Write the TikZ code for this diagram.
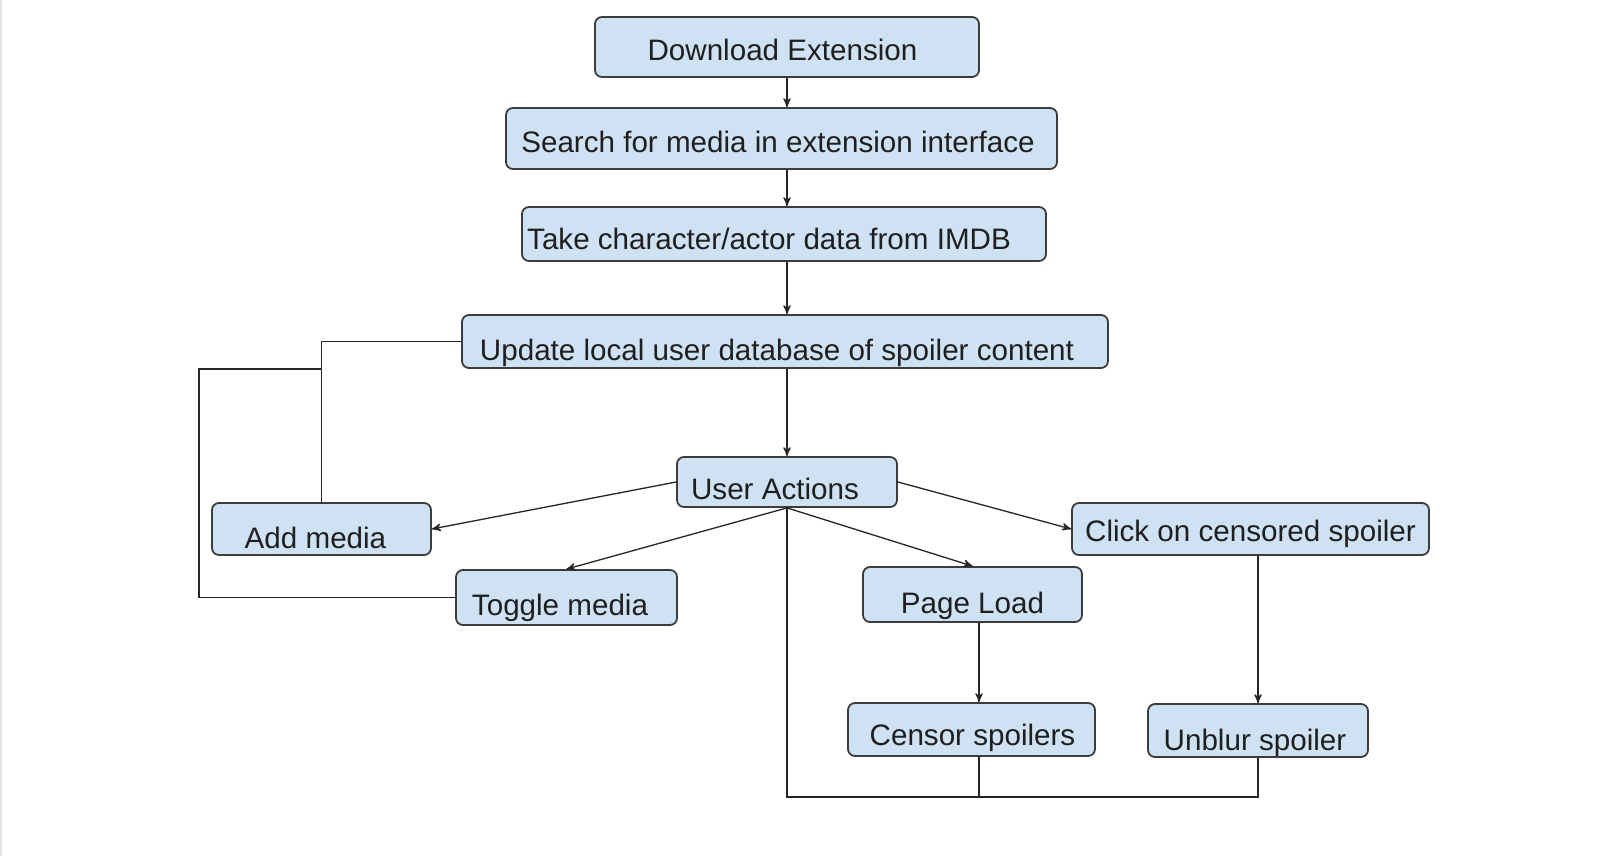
\documentclass[tikz,border=0pt]{standalone}
\usepackage{fontspec}
\setmainfont{Liberation Sans}
\usetikzlibrary{arrows,calc}
\definecolor{boxfill}{HTML}{CFE2F3}
\definecolor{boxline}{HTML}{3C3C3C}
\definecolor{inkline}{HTML}{262626}
\definecolor{textgrey}{HTML}{1F1F1F}
\definecolor{pageedge}{HTML}{E2E2E2}
% shift the label inside its box: right, raise, text
\newcommand{\boxtext}[3]{\raisebox{#2pt}{\hspace*{#1pt}#3\hspace*{-#1pt}}}
\tikzset{
    %Define standard arrow tip
    >=stealth',
    flowbox/.style 2 args={
      rectangle,
      rounded corners=3.5pt,
      draw=boxline, line width=0.9pt,
      fill=boxfill,
      text=textgrey,
      inner sep=0pt,
      minimum width=#1*0.5pt,
      minimum height=#2*0.5pt,
      text height=10.6pt, text depth=0pt,
      font=\fontsize{14.8}{17}\selectfont},
    flow/.style={
      draw=inkline, line width=0.65pt}
}
\begin{document}
\begin{tikzpicture}[x=0.5pt,y=-0.5pt]
\useasboundingbox (0,0) rectangle (1600,856);
\fill[white] (0,0) rectangle (1600,856);
\fill[pageedge] (0,0) rectangle (2,856);

\node[flowbox={384}{60}] (dl) at (787,47) {\boxtext{-2.25}{-1.5}{Download Extension}};
\node[flowbox={551}{61}] (search) at (781.5,138.5) {\boxtext{-1.75}{-1.75}{Search for media in extension interface}};
\node[flowbox={524}{54}] (take) at (784,234) {\boxtext{-7.5}{-2.5}{Take character/actor data from IMDB}};
\node[flowbox={646}{53}] (update) at (785,341.5) {\boxtext{-4}{-4}{Update local user database of spoiler content}};
\node[flowbox={220}{50}] (actions) at (787,482) {\boxtext{-6}{-3.25}{User Actions}};
\node[flowbox={219}{52}] (add) at (321.5,529) {\boxtext{-3}{-4.5}{Add media}};
\node[flowbox={221}{55}] (toggle) at (566.5,597.5) {\boxtext{-3.25}{-3.75}{Toggle media}};
\node[flowbox={219}{55}] (page) at (972.5,594.5) {\boxtext{0}{-4}{Page Load}};
\node[flowbox={357}{52}] (click) at (1250.5,529) {\boxtext{0}{-1}{Click on censored spoiler}};
\node[flowbox={247}{53}] (censor) at (971.5,729.5) {\boxtext{0.5}{-2.75}{Censor spoilers}};
\node[flowbox={220}{53}] (unblur) at (1258,730.5) {\boxtext{-1.5}{-4.75}{Unblur spoiler}};

\coordinate (loop) at (199,369);
\coordinate (base) at (787,797);
\coordinate (pl) at ($(page.south)+(6.5,0)$);
\coordinate (cn) at ($(censor.north)+(7.5,0)$);
\coordinate (cs) at ($(censor.south)+(7.5,0)$);

% main column
\draw[flow,->] (dl.south) -- (dl.south |- search.north);
\draw[flow,->] (dl.south |- search.south) -- (dl.south |- take.north);
\draw[flow,->] (dl.south |- take.south) -- (dl.south |- update.north);
\draw[flow,->] (actions.north |- update.south) -- (actions.north);

% media loops back to the database
\draw[flow] (update.west) -| (add.north);
\draw[flow] (toggle.west) -| (loop) -- (loop -| add.north);

% user actions
\draw[flow,->] (actions.west) -- (add.east);
\draw[flow,->] (actions.south) -- (toggle.north);
\draw[flow,->] (actions.south) -- (page.north);
\draw[flow,->] (actions.east) -- (click.west);
\draw[flow,->] (pl) -- (cn);
\draw[flow,->] (unblur.north |- click.south) -- (unblur.north);

% back to user actions
\draw[flow] (actions.south) -- (base) -| (unblur.south);
\draw[flow] (cs) -- (cs |- base);
\end{tikzpicture}
\end{document}
